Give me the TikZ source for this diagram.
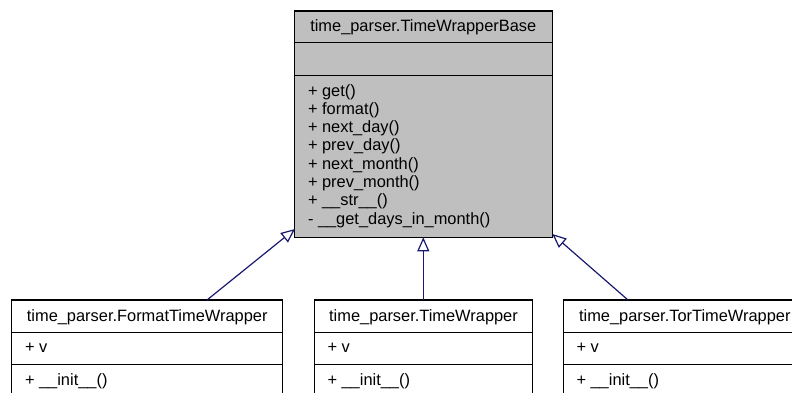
\documentclass[tikz,border=0pt]{standalone}
\usepackage{fontspec}
\setmainfont{Liberation Sans}
\usetikzlibrary{arrows.meta,calc}
\definecolor{edgeblue}{HTML}{191970}
\definecolor{basegray}{HTML}{BFBFBF}
\begin{document}
\begin{tikzpicture}[x=1bp,y=-1bp,
  every node/.style={font=\fontsize{16.4bp}{18.3bp}\selectfont, inner sep=0, outer sep=0},
  classbox/.style={draw=black, line width=1.1bp, rectangle, anchor=north west},
  sepline/.style={draw=black, line width=1.1bp},
  member/.style={anchor=base west},
  ctitle/.style={anchor=base},
  inherit/.style={draw=edgeblue, line width=1.2bp, -{Triangle[open, length=14bp, width=12bp, fill=white]}}
]
\useasboundingbox (0,0) rectangle (792,392);
\clip (0,0) rectangle (792,392);

% Base class
\node[classbox, fill=basegray, minimum width=258bp, minimum height=226.3bp] (base) at (294.3,11) {};
\draw[sepline] (294.3,42.7) -- (552.3,42.7);
\draw[sepline] (294.3,75.3) -- (552.3,75.3);
\node[ctitle] (basetitle) at (423.3,31.7) {time\_parser.TimeWrapperBase};
\foreach \t [count=\i] in {+ get(), + format(), + next\_day(), + prev\_day(), + next\_month(), + prev\_month(), + \_\_str\_\_(), - \_\_get\_days\_in\_month()}
  \node[member] (bm\i) at (308, {96+18.3*(\i-1)}) {\t};

% Child classes
\node[classbox, fill=white, minimum width=271bp, minimum height=98bp] (fmt) at (11.7,300) {};
\draw[sepline] (11.7,332.7) -- (282.7,332.7);
\draw[sepline] (11.7,364.7) -- (282.7,364.7);
\node[ctitle] (fmttitle) at (147.2,321) {time\_parser.FormatTimeWrapper};
\node[member] (fmtv) at (25,352.7) {+ v};
\node[member] (fmtinit) at (25,385.7) {+ \_\_init\_\_()};

\node[classbox, fill=white, minimum width=218.4bp, minimum height=98bp] (tw) at (314.3,300) {};
\draw[sepline] (314.3,332.7) -- (532.7,332.7);
\draw[sepline] (314.3,364.7) -- (532.7,364.7);
\node[ctitle] (twtitle) at (423.5,321) {time\_parser.TimeWrapper};
\node[member] (twv) at (327.5,352.7) {+ v};
\node[member] (twinit) at (327.5,385.7) {+ \_\_init\_\_()};

\node[classbox, fill=white, minimum width=243bp, minimum height=98bp] (tor) at (563.3,300) {};
\draw[sepline] (563.3,332.7) -- (806.3,332.7);
\draw[sepline] (563.3,364.7) -- (806.3,364.7);
\node[ctitle] (tortitle) at (684.8,321) {time\_parser.TorTimeWrapper};
\node[member] (torv) at (576.5,352.7) {+ v};
\node[member] (torinit) at (576.5,385.7) {+ \_\_init\_\_()};

% Connectors
\coordinate (fmttop) at (207,300);
\coordinate (baseL) at (295,229);
\coordinate (twtop) at (423.3,300);
\coordinate (baseM) at (423.3,237.3);
\coordinate (tortop) at (628,300);
\coordinate (baseR) at (552.3,234);
\draw[inherit] (fmttop) -- (baseL);
\draw[inherit] (twtop) -- (baseM);
\draw[inherit] (tortop) -- (baseR);
\end{tikzpicture}
\end{document}
